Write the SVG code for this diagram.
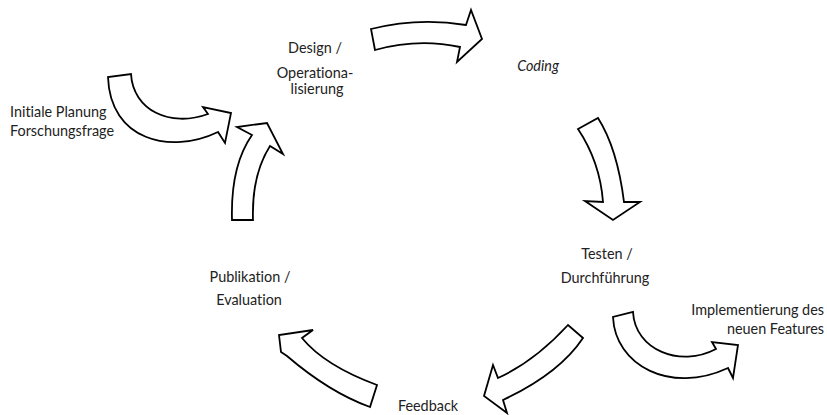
<svg xmlns="http://www.w3.org/2000/svg" width="827" height="415" viewBox="0 0 827 415">
<style>
.lbl{font-family:Lato,"Open Sans","Liberation Sans",sans-serif;font-size:14.4px;fill:#222;font-variant-ligatures:none;font-feature-settings:"liga" 0,"dlig" 0}
.arr{fill:#fff;stroke:#000;stroke-width:1.8;stroke-linejoin:miter}
</style>
<rect width="827" height="415" fill="#fff"/>
<g id="connectors">
<path class="arr" d="M371,29 Q418,17 466,25 L471,10 L482,39 L457,62 L460,47 Q418,38 375,50 Z"/>
<path class="arr" d="M108,77 C110,140 170,155 218,132 L225,143 L231,113 L203,107 L208,114 C170,128 133,110 131,74 Z"/>
<path class="arr" d="M232,220 C231,185 238,155 252,135 L237,127 L267,123 L283,154 L270,146 C258,165 252,190 253,220 Z"/>
<path class="arr" d="M578,129 C592,150 601,175 603,202 L585,201 L613,220 L640,202 L624,202 C620,170 612,140 598,118 Z"/>
<path class="arr" d="M613,317 C615,365 670,395 728,368 L733,378 L738,345 L712,342 L716,349 C680,368 635,350 633,312 Z"/>
<path class="arr" d="M568,325 C545,350 520,368 498,378 L493,365 L484,396 L507,413 L503,400 C535,385 565,365 583,338 Z"/>
<path class="arr" d="M377,385 C350,375 320,360 302,338 L313,330 L279,335 L281,352 L287,356 C315,380 345,398 370,407 Z"/>
</g>
<g id="node-planung">
<text class="lbl" x="10" y="117">Initiale Planung</text>
<text class="lbl" x="10" y="136">Forschungsfrage</text>
</g>
<g id="node-design">
<text class="lbl" x="315" y="53" text-anchor="middle">Design /</text>
<text class="lbl" x="315" y="78" text-anchor="middle">Operationa-</text>
<text class="lbl" x="317" y="94" text-anchor="middle">lisierung</text>
</g>
<g id="node-coding">
<text class="lbl" x="538" y="71" text-anchor="middle" font-style="italic">Coding</text>
</g>
<g id="node-testen">
<text class="lbl" x="607" y="259" text-anchor="middle">Testen /</text>
<text class="lbl" x="605" y="283" text-anchor="middle">Durchführung</text>
</g>
<g id="node-implementierung">
<text class="lbl" x="824" y="315" text-anchor="end">Implementierung des</text>
<text class="lbl" x="824" y="334" text-anchor="end">neuen Features</text>
</g>
<g id="node-feedback">
<text class="lbl" x="428" y="411" text-anchor="middle">Feedback</text>
</g>
<g id="node-publikation">
<text class="lbl" x="250" y="282" text-anchor="middle">Publikation /</text>
<text class="lbl" x="249" y="305" text-anchor="middle">Evaluation</text>
</g>
</svg>
